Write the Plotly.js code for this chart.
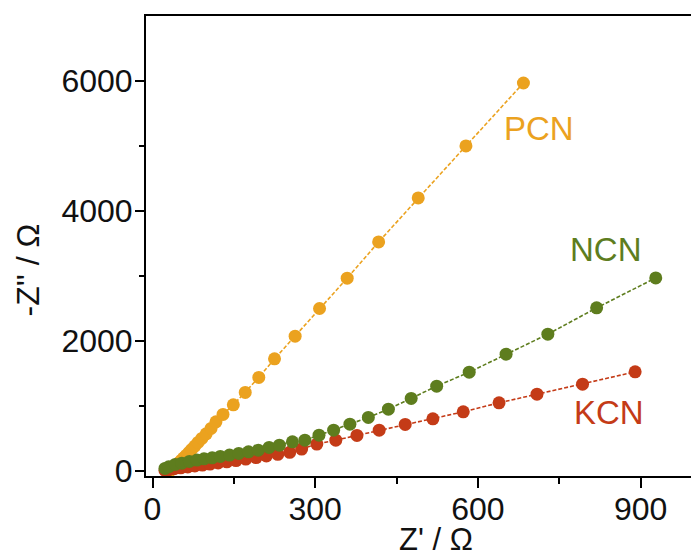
<!DOCTYPE html>
<html>
<head>
<meta charset="utf-8">
<script src="https://cdn.plot.ly/plotly-3.0.1.min.js"></script>
<style>html,body{margin:0;padding:0;overflow:hidden;background:#fff;}#chart{width:691px;height:559px;}</style>
</head>
<body>
<div id="chart"></div>
<script>
// Nyquist data (Z' / Ω, -Z'' / Ω)
var pcnX = [30, 32, 34, 36, 39, 42, 45, 49, 53, 57, 62, 67, 72, 78, 84, 91, 99, 108, 117, 130, 149, 171, 196, 225, 263, 308, 359, 417, 490, 578, 684];
var pcnY = [0, 6, 16, 30, 48, 70, 96, 126, 160, 196, 236, 280, 328, 380, 436, 498, 569, 652, 754, 868, 1015, 1206, 1437, 1723, 2072, 2498, 2965, 3523, 4200, 5000, 5969];

var ncnX = [23, 30, 42, 54, 68, 82, 95, 110, 125, 142, 159, 177, 195, 215, 234, 258, 281, 307, 334, 364, 398, 435, 477, 524, 584, 652, 729, 819, 928];
var ncnY = [37, 62, 98, 118, 145, 165, 185, 200, 221, 242, 268, 292, 318, 360, 395, 446, 472, 549, 626, 718, 821, 949, 1114, 1303, 1518, 1795, 2103, 2508, 2969];

var kcnX = [23, 30, 40, 52, 65, 78, 92, 106, 121, 137, 154, 172, 191, 210, 231, 253, 275, 303, 338, 377, 418, 466, 517, 573, 639, 709, 793, 890];
var kcnY = [5, 18, 32, 46, 60, 74, 88, 104, 120, 138, 158, 180, 204, 228, 254, 284, 335, 411, 472, 545, 626, 714, 800, 908, 1046, 1180, 1334, 1523];

var seriesNames = ['PCN', 'KCN', 'NCN'];
var xTickVals = [0, 300, 600, 900];
var yTickVals = [0, 2000, 4000, 6000];

var colPCN = '#EBA21F', colNCN = '#5E7D1E', colKCN = '#C43B17';
var FONT = "'Liberation Sans', Arial, sans-serif";

function trace(x, y, name, col) {
  return {
    x: x, y: y, name: name, type: 'scatter', mode: 'lines+markers',
    line: {color: col, width: 1.6, dash: '4px,2px'},
    marker: {color: col, size: 13, line: {width: 0}},
    showlegend: false, cliponaxis: false
  };
}

var data = [
  trace(pcnX, pcnY, seriesNames[0], colPCN),
  trace(kcnX, kcnY, seriesNames[1], colKCN),
  trace(ncnX, ncnY, seriesNames[2], colNCN)
];

var layout = {
  width: 691, height: 559,
  margin: {l: 146, r: 0, t: 16, b: 83, pad: 0},
  paper_bgcolor: '#fff', plot_bgcolor: '#fff',
  font: {family: FONT, size: 32, color: '#111'},
  xaxis: {
    range: [-12, 993], tickvals: xTickVals, ticktext: xTickVals.map(String),
    showline: true, linecolor: '#000', linewidth: 2, mirror: true,
    ticks: 'outside', ticklen: 10, tickwidth: 2, tickcolor: '#000',
    minor: {tickvals: [150, 450, 750], ticks: 'outside', ticklen: 6, tickwidth: 2, tickcolor: '#000'},
    showgrid: false, zeroline: false, ticklabelstandoff: -6,
    tickfont: {family: FONT, size: 32, color: '#111'}
  },
  yaxis: {
    range: [-80, 7000], tickvals: yTickVals, ticktext: yTickVals.map(String),
    showline: true, linecolor: '#000', linewidth: 2, mirror: false,
    ticks: 'outside', ticklen: 9, tickwidth: 2, tickcolor: '#000',
    minor: {tickvals: [1000, 3000, 5000], ticks: 'outside', ticklen: 5, tickwidth: 2, tickcolor: '#000'},
    showgrid: false, zeroline: false, ticklabelstandoff: -4,
    tickfont: {family: FONT, size: 32, color: '#111'}
  },
  annotations: [
    {text: 'PCN', xref: 'paper', yref: 'paper', x: 0.722, y: 0.7554, xanchor: 'center', yanchor: 'middle', showarrow: false, font: {family: FONT, size: 33, color: colPCN}},
    {text: 'NCN', xref: 'paper', yref: 'paper', x: 0.844, y: 0.4924, xanchor: 'center', yanchor: 'middle', showarrow: false, font: {family: FONT, size: 33, color: colNCN}},
    {text: 'KCN', xref: 'paper', yref: 'paper', x: 0.8495, y: 0.138, xanchor: 'center', yanchor: 'middle', showarrow: false, font: {family: FONT, size: 33, color: colKCN}},
    {text: "-Z'' / Ω", xref: 'paper', yref: 'paper', x: -0.2174, y: 0.4478, xanchor: 'center', yanchor: 'middle', textangle: -90, showarrow: false, font: {family: FONT, size: 32, color: '#111'}},
    {text: "Z' / Ω", xref: 'paper', yref: 'paper', x: 0.532, y: -0.137, xanchor: 'center', yanchor: 'middle', showarrow: false, font: {family: FONT, size: 31, color: '#111'}}
  ]
};

Plotly.newPlot('chart', data, layout, {staticPlot: true, displayModeBar: false});
</script>
</body>
</html>
